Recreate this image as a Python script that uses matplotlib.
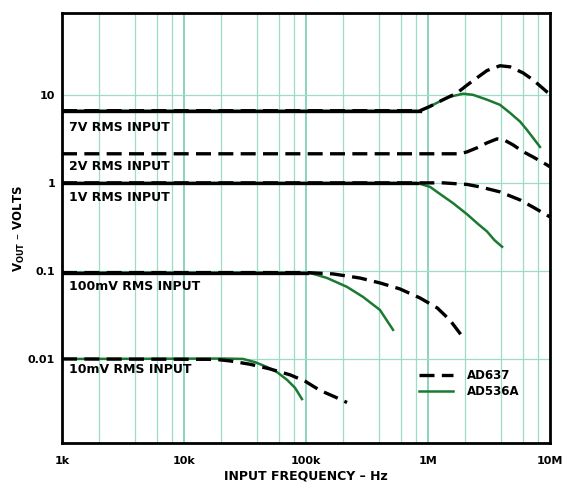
import numpy as np
import matplotlib
matplotlib.use("Agg")
import matplotlib.pyplot as plt

# input levels and where their labels sit (volts)
levels = ["7V RMS INPUT", "2V RMS INPUT", "1V RMS INPUT", "100mV RMS INPUT", "10mV RMS INPUT"]
label_y = [4.3, 1.52, 0.69, 0.066, 0.0075]

# AD637 (dashed) curves, Hz / volts
ad637_7v_f = [1e3, 8.6e5, 1.04e6, 1.33e6, 1.73e6, 2.09e6, 2.52e6, 3.05e6, 3.89e6, 4.70e6, 5.99e6, 7.26e6, 9.44e6, 1e7]
ad637_7v_v = [6.6, 6.6, 7.4, 8.8, 10.5, 12.9, 15.6, 18.9, 21.4, 20.8, 17.8, 14.8, 10.8, 10.2]
ad637_2v_f = [1e3, 1.83e6, 2.09e6, 2.52e6, 3.05e6, 3.68e6, 4.28e6, 4.98e6, 5.99e6, 7.26e6, 9.44e6, 1e7]
ad637_2v_v = [2.14, 2.14, 2.25, 2.5, 2.85, 3.16, 3.03, 2.70, 2.27, 1.97, 1.60, 1.52]
ad637_1v_f = [1e3, 1.33e6, 2.09e6, 2.67e6, 3.89e6, 5.68e6, 7.26e6, 9.44e6, 1e7]
ad637_1v_v = [1.0, 1.0, 0.96, 0.90, 0.79, 0.64, 0.53, 0.43, 0.41]
ad637_100m_f = [1e3, 1.02e5, 1.66e5, 2.77e5, 4.04e5, 5.89e5, 8.59e5, 1.19e6, 1.51e6, 1.90e6]
ad637_100m_v = [0.0957, 0.0957, 0.0925, 0.083, 0.073, 0.0624, 0.0493, 0.038, 0.0277, 0.0182]
ad637_10m_f = [1e3, 1.8e4, 2.38e4, 3.48e4, 5.07e4, 7.4e4, 9.8e4, 1.3e5, 1.73e5, 2.17e5]
ad637_10m_v = [0.0100, 0.0099, 0.0095, 0.0087, 0.0077, 0.0066, 0.0056, 0.0044, 0.0037, 0.0032]

# AD536A (green) curves
ad536_7v_f = [1e3, 8.6e5, 1.04e6, 1.33e6, 1.51e6, 1.94e6, 2.34e6, 3.05e6, 3.89e6, 4.70e6, 5.68e6, 6.47e6, 8.28e6]
ad536_7v_v = [6.6, 6.6, 7.4, 8.8, 9.5, 10.3, 10.0, 8.8, 7.7, 6.24, 4.97, 4.0, 2.56]
ad536_1v_f = [1e3, 8.1e5, 1.04e6, 1.25e6, 1.6e6, 2.09e6, 2.56e6, 3.05e6, 3.5e6, 4.05e6]
ad536_1v_v = [1.0, 1.0, 0.90, 0.75, 0.59, 0.44, 0.343, 0.28, 0.224, 0.188]
ad536_100m_f = [1e3, 1.02e5, 1.2e5, 1.49e5, 2.17e5, 2.93e5, 4.04e5, 5.17e5]
ad536_100m_v = [0.0957, 0.0957, 0.091, 0.083, 0.0658, 0.0507, 0.036, 0.0214]
ad536_10m_f = [1e3, 2.2e4, 3.05e4, 3.82e4, 4.79e4, 5.78e4, 6.98e4, 8.13e4, 9.27e4]
ad536_10m_v = [0.0100, 0.0101, 0.0100, 0.0092, 0.0081, 0.0071, 0.0058, 0.0047, 0.0035]

x_ticks = [1e3, 1e4, 1e5, 1e6, 1e7]
x_tick_labels = ["1k", "10k", "100k", "1M", "10M"]
y_ticks = [0.01, 0.1, 1, 10]
y_tick_labels = ["0.01", "0.1", "1", "10"]

GREEN = "#1b7a32"
GRID = "#9fdcc8"
GRID_MAJOR = "#6cc9ab"

fig = plt.figure(figsize=(5.64, 4.83), dpi=100)
ax = fig.add_axes([62 / 564, 1 - 443 / 483, 488 / 564, 430 / 483])
ax.set_xscale("log")
ax.set_yscale("log")
ax.set_xlim(1e3, 1e7)
ax.set_ylim(0.00111, 85)

# 1. grid: verticals at 2,4,6,8 of each decade, horizontals at decades
minor_x = [m * 10 ** d for d in range(3, 7) for m in (2, 4, 6, 8)]
for xv in minor_x:
    ax.axvline(xv, color=GRID, lw=0.9, zorder=0)
for xv in x_ticks[1:-1]:
    ax.axvline(xv, color=GRID_MAJOR, lw=1.1, zorder=0)
for yv in y_ticks:
    ax.axhline(yv, color=GRID, lw=0.9, zorder=0)

# 2. curves
dash = (0, (4.5, 2.2))
green_sets = [(ad536_7v_f, ad536_7v_v, True), (ad536_1v_f, ad536_1v_v, True),
              (ad536_100m_f, ad536_100m_v, True), (ad536_10m_f, ad536_10m_v, False)]
for f, v, flat_black in green_sets:
    ax.plot(f, v, color=GREEN, lw=1.8, zorder=2, solid_joinstyle="round")
    if flat_black:
        ax.plot(f[:2], v[:2], color="black", lw=2.4, zorder=4)

dashed_sets = [(ad637_7v_f, ad637_7v_v), (ad637_2v_f, ad637_2v_v), (ad637_1v_f, ad637_1v_v),
               (ad637_100m_f, ad637_100m_v), (ad637_10m_f, ad637_10m_v)]
for f, v in dashed_sets:
    ax.plot(f, v, color="black", lw=2.4, linestyle=dash, zorder=3)

# 3. level labels
for txt, yv in zip(levels, label_y):
    ax.text(1.15e3, yv, txt, fontsize=9, fontweight="bold", va="center", ha="left")

# 4. legend
h1, = ax.plot([], [], color="black", lw=2.4, linestyle=dash, label="AD637")
h2, = ax.plot([], [], color=GREEN, lw=1.8, label="AD536A")
ax.legend(handles=[h1, h2], loc="upper left", bbox_to_anchor=(0.72, 0.185), frameon=False,
          prop={"weight": "bold", "size": 8.5}, handlelength=2.9, handletextpad=1.1,
          labelspacing=0.25, borderpad=0)

# 5. axes styling
ax.set_xticks(x_ticks)
ax.set_xticklabels(x_tick_labels, fontsize=8, fontweight="bold")
ax.set_xticks([], minor=True)
ax.set_yticks(y_ticks)
ax.set_yticklabels(y_tick_labels, fontsize=8, fontweight="bold")
ax.set_yticks([], minor=True)
ax.tick_params(axis="x", length=0, pad=9)
ax.tick_params(axis="y", length=0, pad=5)
for s in ax.spines.values():
    s.set_linewidth(2)

ax.set_xlabel("INPUT FREQUENCY – Hz", fontsize=9, fontweight="bold", labelpad=3)
ax.set_ylabel(r"V$_{\mathbf{OUT}}$ – VOLTS", fontsize=8.5, fontweight="bold")
ax.yaxis.set_label_coords(-0.072, 0.5)

fig.savefig("out.png", dpi=100)
